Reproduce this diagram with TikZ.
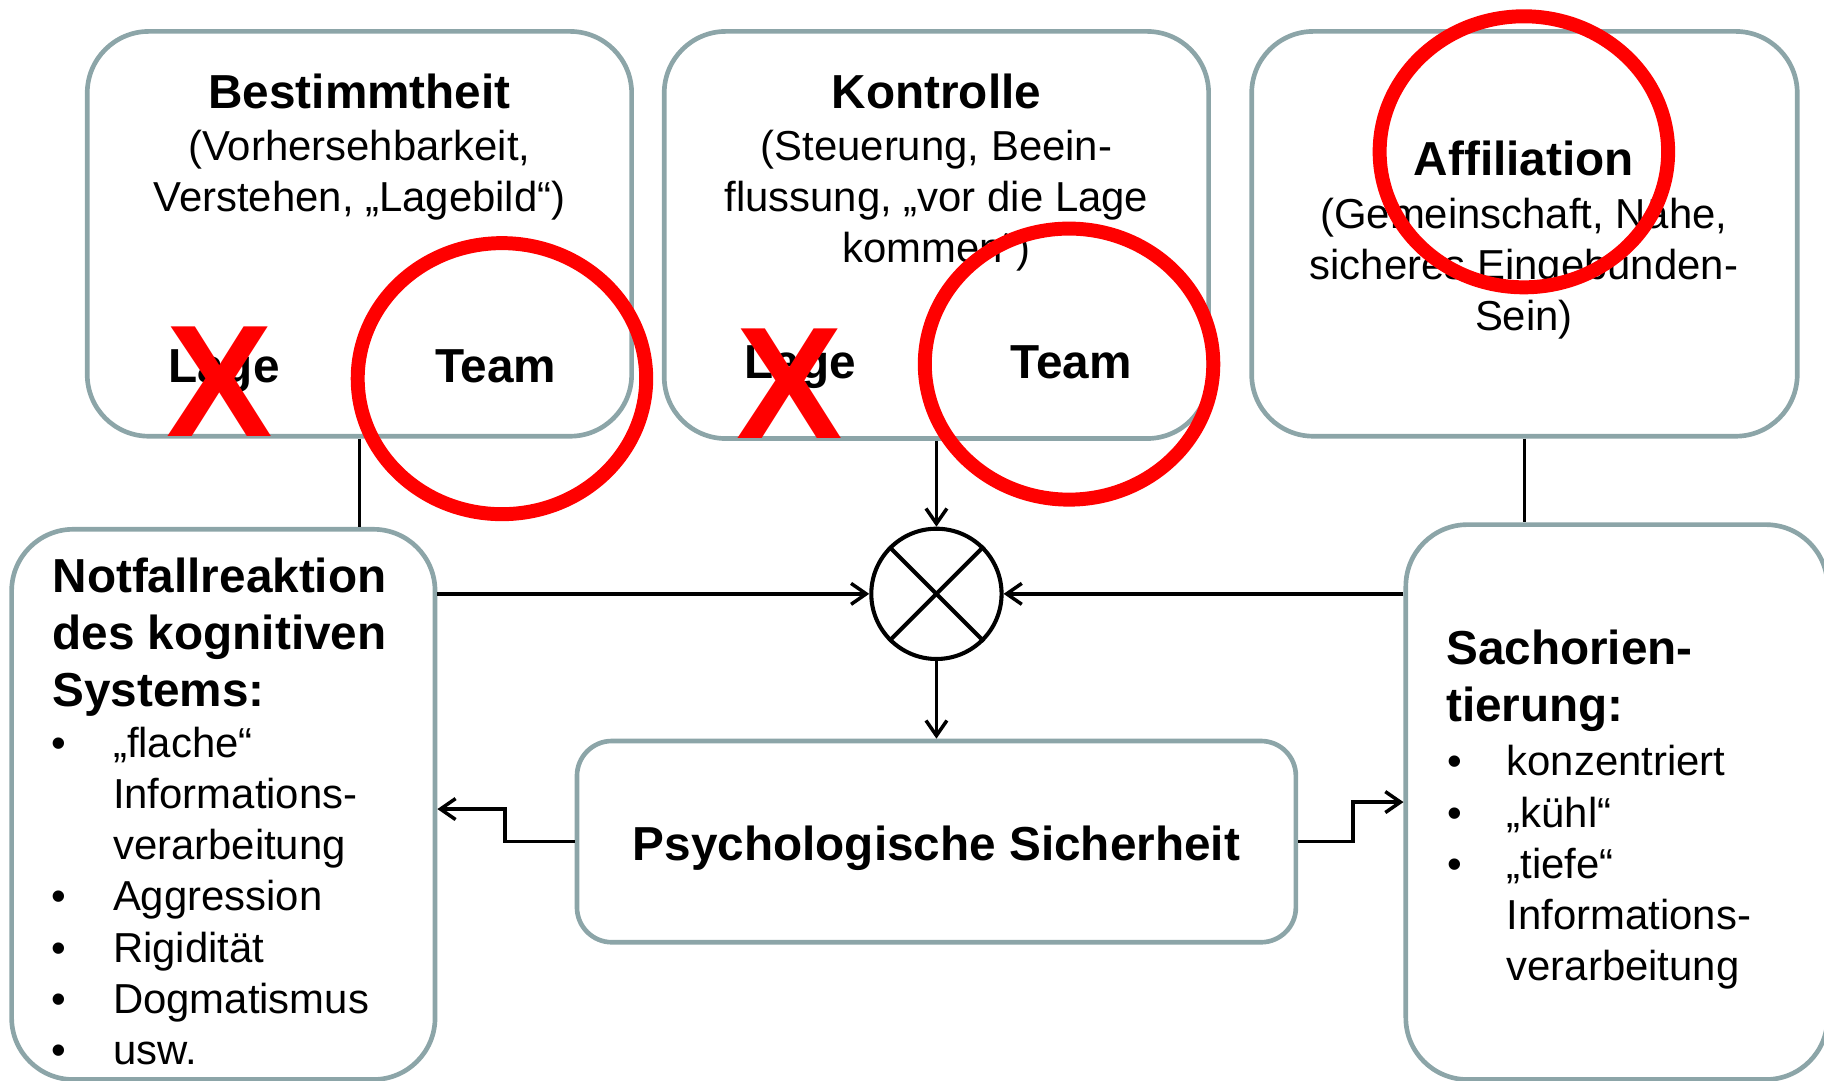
\documentclass[tikz,border=0pt]{standalone}
\usepackage{fontspec}
\setmainfont{Liberation Sans}
\usetikzlibrary{arrows.meta,shapes.geometric}
\definecolor{boxgray}{RGB}{140,165,168}
\definecolor{markred}{RGB}{255,0,0}
\newcommand{\headfont}{\fontsize{41}{49}\selectfont\bfseries}
\newcommand{\bodyfont}{\fontsize{36}{44}\selectfont}
\newcommand{\itm}[2][53pt]{\makebox[#1][l]{•}#2}

\begin{document}
\begin{tikzpicture}[x=1pt,y=-1pt,>={Straight Barb[length=13pt,width=18pt]},
  box/.style={draw=boxgray,line width=4pt,rounded corners=53pt,inner sep=0},
  hd/.style={inner sep=0,font=\headfont},
  txt/.style={inner sep=0,align=center,font=\bodyfont},
  conn/.style={line width=3pt},
  redx/.style={inner sep=0,text=markred,font=\fontsize{137}{137}\selectfont\bfseries},
  ring/.style={ellipse,draw=markred,line width=12pt,minimum width=248pt,minimum height=233pt,inner sep=0}]
\useasboundingbox (0,0) rectangle (1568,929);

\node[box,minimum width=468pt,minimum height=348pt] (bestimmt) at (309,201) {};
\node[box,minimum width=468pt,minimum height=350pt] (kontrolle) at (805,202) {};
\node[box,minimum width=469pt,minimum height=348pt] (affil) at (1310.5,201) {};
\node[box,minimum width=364pt,minimum height=473pt] (notfall) at (192,691.5) {};
\node[box,minimum width=362.5pt,minimum height=477pt] (sach) at (1389.75,689.5) {};
\node[box,rounded corners=30pt,minimum width=618pt,minimum height=173pt] (psych) at (805,723.5) {};
\node[circle,draw,line width=3.5pt,minimum size=112pt,inner sep=0] (mult) at (805,510.5) {};
\draw[line width=3.5pt] (mult.north west) -- (mult.south east) (mult.north east) -- (mult.south west);

% multi-line nodes: base = baseline of the last line
\node[hd,anchor=base] (t1) at (309,93) {Bestimmtheit};
\node[txt,anchor=base] (d1) at (309,182) {(Vorhersehbarkeit,\\Verstehen, „Lagebild“)};
\node[hd,anchor=base] (lage1) at (192.5,328.5) {Lage};
\node[hd,anchor=base] (team1) at (426,328.5) {Team};

\node[hd,anchor=base] (t2) at (805,93) {Kontrolle};
\node[txt,anchor=base] (d2) at (805,226) {(Steuerung, Beein-\\flussung, „vor die Lage\\kommen“)};
\node[hd,anchor=base] (lage2) at (688,325.5) {Lage};
\node[hd,anchor=base] (team2) at (921,325.5) {Team};

\node[hd,anchor=base] (t3) at (1310,150.5) {Affiliation};
\node[txt,anchor=base] (d3) at (1310,284) {(Gemeinschaft, Nähe,\\sicheres Eingebunden-\\Sein)};

\node[hd,anchor=base west,align=left] (nhead) at (45,607) {Notfallreaktion\\des kognitiven\\Systems:};
\node[txt,anchor=base west,align=left] (nlist) at (44,915) {\itm{„flache“}\\\hspace*{53pt}Informations-\\\hspace*{53pt}verarbeitung\\\itm{Aggression}\\\itm{Rigidität}\\\itm{Dogmatismus}\\\itm{usw.}};

\node[hd,anchor=base west,align=left] (shead) at (1243,620) {Sachorien-\\tierung:};
\node[txt,anchor=base west,align=left] (slist) at (1244,843) {\itm[51pt]{konzentriert}\\\itm[51pt]{„kühl“}\\\itm[51pt]{„tiefe“}\\\hspace*{51pt}Informations-\\\hspace*{51pt}verarbeitung};

\node[hd,anchor=base] (ptext) at (805,740) {Psychologische Sicherheit};

\draw[conn] (bestimmt.south) -- (bestimmt.south |- notfall.north);
\draw[conn] (affil.south) -- (affil.south |- sach.north);
\draw[conn,->] (kontrolle.south) -- (mult.north);
\draw[conn,->] (notfall.east |- mult) -- (mult.west);
\draw[conn,->] (sach.west |- mult) -- (mult.east);
\draw[conn,->] (mult.south) -- (psych.north);
\draw[conn,->] (psych.west) -- ++(-60,0) |- ([yshift=-4pt]notfall.east);
\draw[conn,->] (psych.east) -- ++(47,0) |- (sach.west);

\node[redx,anchor=base] (xlage1) at (188.5,375) {X};
\node[redx,anchor=base] (xlage2) at (679,377) {X};
\node[ring] (ring1) at (431.5,325.5) {};
\node[ring] (ring2) at (919,313) {};
\node[ring] (ring3) at (1310,130.5) {};
\end{tikzpicture}
\end{document}
